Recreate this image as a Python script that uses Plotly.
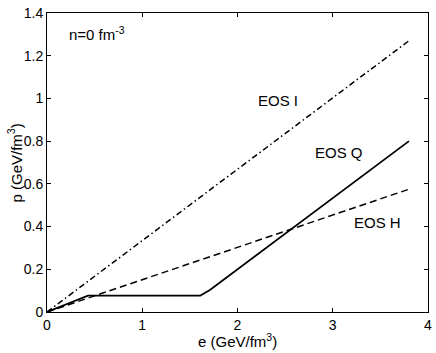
import plotly.graph_objects as go

# energy density e (GeV/fm^3) and pressure p (GeV/fm^3)
e_eos_i = [0.0, 3.8]
p_eos_i = [0.0, 1.27]

e_eos_h = [0.0, 3.8]
p_eos_h = [0.0, 0.575]

e_eos_q = [0.0, 0.43, 1.61, 1.71, 3.8]
p_eos_q = [0.0, 0.077, 0.077, 0.103, 0.8]

x_ticks = [0, 1, 2, 3, 4]
y_ticks = [0, 0.2, 0.4, 0.6, 0.8, 1, 1.2, 1.4]

font = dict(family="Liberation Sans, Arial, sans-serif", size=15, color="black")
tick_font = dict(family="Liberation Sans, Arial, sans-serif", size=14, color="black")

fig = go.Figure()

fig.add_trace(go.Scatter(x=e_eos_i, y=p_eos_i, mode="lines",
                         line=dict(color="black", width=1.5, dash="6px,3px,1.5px,3px")))
fig.add_trace(go.Scatter(x=e_eos_h, y=p_eos_h, mode="lines",
                         line=dict(color="black", width=1.5, dash="7px,4px")))
fig.add_trace(go.Scatter(x=e_eos_q, y=p_eos_q, mode="lines",
                         line=dict(color="black", width=1.8)))

# labels
labels = [
    (0.21, 1.305, "n=0 fm<sup>-3</sup>", "left"),
    (2.43, 0.99, "EOS I", "center"),
    (3.07, 0.745, "EOS Q", "center"),
    (3.47, 0.42, "EOS H", "center"),
]
for x, y, t, anchor in labels:
    fig.add_annotation(x=x, y=y, text=t, showarrow=False, xanchor=anchor,
                       yanchor="middle", font=font)

# axis titles placed by hand (paper coords) to sit like the original
fig.add_annotation(x=0.5, y=-0.095, xref="paper", yref="paper", text="e (GeV/fm<sup>3</sup>)",
                   showarrow=False, xanchor="center", yanchor="middle", font=font)
fig.add_annotation(x=-0.084, y=0.5, xref="paper", yref="paper", text="p (GeV/fm<sup>3</sup>)",
                   showarrow=False, xanchor="center", yanchor="middle", textangle=-90, font=font)

axis_style = dict(showgrid=False, zeroline=False, showline=True, linecolor="black",
                  linewidth=1, mirror="ticks", ticks="inside", ticklen=4,
                  tickcolor="black", tickfont=tick_font, automargin=False)

fig.update_layout(
    width=436, height=353,
    margin=dict(l=47, r=8, t=13, b=41),
    plot_bgcolor="white", paper_bgcolor="white",
    showlegend=False,
    font=font,
    xaxis=dict(range=[0, 4], tickvals=x_ticks, ticklabeloverflow="allow", **axis_style),
    yaxis=dict(range=[0, 1.4], tickvals=y_ticks, **axis_style),
)

# drop the default page margin so the figure sits at the window's corner
fig.write_html("out.html", config={"displayModeBar": False},
               post_script="document.body.style.margin='0';")
